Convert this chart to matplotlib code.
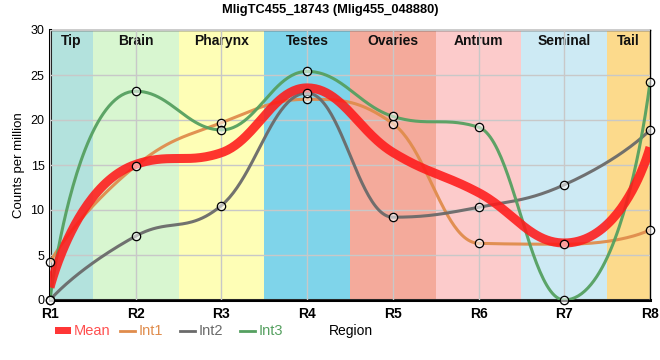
import numpy as np
import matplotlib
matplotlib.use("Agg")
import matplotlib.pyplot as plt
from matplotlib.patches import Rectangle
from matplotlib.lines import Line2D

plt.rcParams["font.family"] = ["Liberation Sans", "DejaVu Sans"]

regions = ["Tip", "Brain", "Pharynx", "Testes", "Ovaries", "Antrum", "Seminal", "Tail"]
region_colors = ["#b3e2dd", "#d8f6d0", "#fefeb6", "#7fd4ea", "#f4aa9b", "#fccbcb", "#cdeaf4", "#fcda8c"]
samples = ["R1", "R2", "R3", "R4", "R5", "R6", "R7", "R8"]

int1 = [4.2, 14.9, 19.7, 22.3, 19.6, 6.3, 6.2, 7.8]
int2 = [0.0, 7.1, 10.5, 23.0, 9.2, 10.3, 12.8, 18.9]
int3 = [0.0, 23.2, 18.9, 25.4, 20.4, 19.2, 0.0, 24.2]
mean = np.mean([int1, int2, int3], axis=0)

c_mean = "#ff1a1a"
c_int1 = "#e08c4c"
c_int2 = "#6a6a6a"
c_int3 = "#55a060"


def spline(xs, ys, smoothing=1.5, end_stretch=1.75, n=50):
    # bezier spline through the points, control points kept from overshooting
    xs = np.asarray(xs, float)
    ys = np.asarray(ys, float)
    N = len(xs)
    denom = smoothing + 1
    left = [None] * N
    right = [None] * N
    for i in range(1, N - 1):
        x, y = xs[i], ys[i]
        lx, ly = xs[i - 1], ys[i - 1]
        nx, ny = xs[i + 1], ys[i + 1]
        lcx = (smoothing * x + lx) / denom
        lcy = (smoothing * y + ly) / denom
        rcx = (smoothing * x + nx) / denom
        rcy = (smoothing * y + ny) / denom
        corr = (rcy - lcy) * (rcx - x) / (rcx - lcx) + y - rcy
        lcy += corr
        rcy += corr
        if lcy > ly and lcy > y:
            lcy = max(ly, y); rcy = 2 * y - lcy
        elif lcy < ly and lcy < y:
            lcy = min(ly, y); rcy = 2 * y - lcy
        if rcy > ny and rcy > y:
            rcy = max(ny, y); lcy = 2 * y - rcy
        elif rcy < ny and rcy < y:
            rcy = min(ny, y); lcy = 2 * y - rcy
        left[i] = (lcx, lcy)
        right[i] = (rcx, rcy)
    # the end segments pull their inner control point further out
    left[1] = (xs[1] + end_stretch * (left[1][0] - xs[1]), ys[1] + end_stretch * (left[1][1] - ys[1]))
    right[N - 2] = (xs[N - 2] + end_stretch * (right[N - 2][0] - xs[N - 2]),
                    ys[N - 2] + end_stretch * (right[N - 2][1] - ys[N - 2]))
    t = np.linspace(0, 1, n)
    px, py = [], []
    for i in range(N - 1):
        p0 = (xs[i], ys[i])
        p3 = (xs[i + 1], ys[i + 1])
        c1 = right[i] or p0
        c2 = left[i + 1] or p3
        b0, b1, b2, b3 = (1 - t) ** 3, 3 * (1 - t) ** 2 * t, 3 * (1 - t) * t ** 2, t ** 3
        px.append(b0 * p0[0] + b1 * c1[0] + b2 * c2[0] + b3 * p3[0])
        py.append(b0 * p0[1] + b1 * c1[1] + b2 * c2[1] + b3 * p3[1])
    return np.concatenate(px), np.concatenate(py)


fig = plt.figure(figsize=(6.6, 3.6), dpi=100)
ax = fig.add_axes([50 / 660, 60 / 360, 600 / 660, 270 / 360])
x = np.arange(len(samples))

for i, (name, col) in enumerate(zip(regions, region_colors)):
    lo, hi = max(i - 0.5, 0), min(i + 0.5, len(samples) - 1)
    ax.add_patch(Rectangle((lo, 0), hi - lo, 30, color=col, lw=0, zorder=0))
    ax.text((lo + hi) / 2, 28.8, name, ha="center", va="center", fontsize=10,
            fontweight="bold", color="#111111", zorder=1)

ax.grid(True, color="#c8c8c8", lw=1, zorder=0.5)
ax.set_axisbelow(False)

for vals, col, lw, z, alpha in [(int1, c_int1, 2.2, 3, 0.95), (int2, c_int2, 2.2, 3, 0.95),
                               (int3, c_int3, 2.2, 3, 0.95), (mean, c_mean, 6.5, 4, 0.88)]:
    sx, sy = spline(x, vals)
    ax.plot(sx, sy, color=col, lw=lw, alpha=alpha, zorder=z, solid_capstyle="butt")

for vals in (int1, int2, int3):
    ax.plot(x, vals, ls="none", marker="o", ms=6, mfc=(1, 1, 1, 0.55), mec="black",
            mew=0.9, zorder=6, clip_on=False)

ax.set_xlim(0, len(samples) - 1)
ax.set_ylim(0, 30)
ax.set_xticks(x)
ax.set_xticklabels(samples, fontsize=10, fontweight="bold")
ax.set_yticks(range(0, 31, 5))
ax.tick_params(axis="y", labelsize=9, length=0, pad=4)
ax.tick_params(axis="x", length=0, pad=5)
ax.set_ylabel("Counts per million", fontsize=9.5, labelpad=4)
for s in ["left", "bottom"]:
    ax.spines[s].set_linewidth(2.2)
for s in ["top", "right"]:
    ax.spines[s].set_linewidth(1)

fig.text(330 / 660, 1 - 10 / 360, "MligTC455_18743 (Mlig455_048880)", ha="center", va="center",
         fontsize=9.3, fontweight="bold")

# legend row, axis title shares it
ly = 1 - 331 / 360
fig.patches.append(Rectangle((55 / 660, 1 - 334 / 360), 16 / 660, 7 / 360, transform=fig.transFigure,
                             color=c_mean, alpha=0.88, lw=0))
fig.text(74 / 660, ly, "Mean", color="#ff5050", fontsize=10.5, va="center")
for x0, lab, col in [(120, "Int1", c_int1), (180, "Int2", c_int2), (240, "Int3", c_int3)]:
    fig.lines.append(Line2D([x0 / 660, (x0 + 15) / 660], [ly, ly], transform=fig.transFigure,
                            color=col, lw=2))
    fig.text((x0 + 19) / 660, ly, lab, color=col, fontsize=10.5, va="center")
fig.text(351 / 660, ly, "Region", color="black", fontsize=10, ha="center", va="center")

fig.savefig("out.png", dpi=100)
